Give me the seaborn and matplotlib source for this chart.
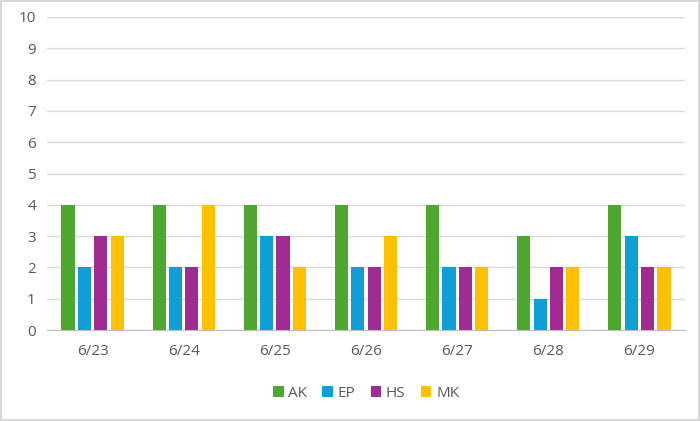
import numpy as np
import pandas as pd
import matplotlib.pyplot as plt
import seaborn as sns

dates = ['6/23', '6/24', '6/25', '6/26', '6/27', '6/28', '6/29']
ak = [4, 4, 4, 4, 4, 3, 4]
ep = [2, 2, 3, 2, 2, 1, 3]
hs = [3, 2, 3, 2, 2, 2, 2]
mk = [3, 4, 2, 3, 2, 2, 2]
people = ['AK', 'EP', 'HS', 'MK']
colors = ['#4EA72E', '#0F9ED5', '#A02B93', '#FFC000']

df = pd.DataFrame({'date': dates, 'AK': ak, 'EP': ep, 'HS': hs, 'MK': mk})
df = df.melt(id_vars='date', var_name='person', value_name='count')

sns.set_style('white')
plt.rcParams['font.family'] = ['Open Sans', 'DejaVu Sans']

fig = plt.figure(figsize=(7, 4.21), dpi=100)
ax = fig.add_axes([47/700, 1 - 330/421, (685-47)/700, (330-17)/421])

sns.barplot(data=df, x='date', y='count', hue='person', order=dates,
            hue_order=people, palette=colors, width=0.72, gap=0.2,
            saturation=1, linewidth=0, ax=ax)

ax.set_ylim(0, 10)
ax.set_xlim(-0.5, 6.5)
ax.set_yticks(range(0, 11))
ax.yaxis.grid(True, color='#D9D9D9', linewidth=1)
ax.set_axisbelow(True)
for s in ['top', 'right', 'left']:
    ax.spines[s].set_visible(False)
ax.spines['bottom'].set_color('#BFBFBF')
ax.tick_params(axis='y', length=0, labelsize=11, labelcolor='#595959', pad=8)

# category boundary ticks below the axis, labels at the centers
ax.set_xticks(np.arange(-0.5, 7, 1))
ax.set_xticklabels([])
ax.tick_params(axis='x', which='major', length=5, color='#BFBFBF')
ax.set_xticks(range(7), minor=True)
ax.set_xticklabels(dates, minor=True)
ax.tick_params(axis='x', which='minor', length=0, labelsize=11,
               labelcolor='#595959', pad=10)
ax.set_xlabel('')
ax.set_ylabel('')

ax.legend(loc='upper center', bbox_to_anchor=(0.5, -0.135), ncol=4,
          frameon=False, fontsize=11, handlelength=0.7, handleheight=0.7,
          handletextpad=0.3, columnspacing=1.0, labelcolor='#595959')

fig.patches.append(plt.Rectangle((0.002, 0.003), 0.996, 0.994,
                                 transform=fig.transFigure, fill=False,
                                 edgecolor='#D9D9D9', linewidth=1.5))

fig.savefig('out.png', dpi=100)
